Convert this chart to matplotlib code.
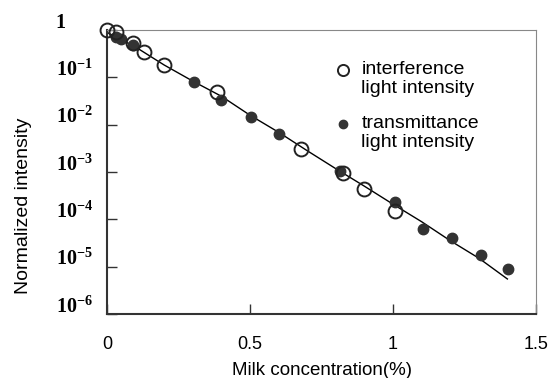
import matplotlib
matplotlib.use('Agg')
import matplotlib.pyplot as plt
import matplotlib.transforms as mtransforms
import numpy as np

# interference light intensity (open circles)
interf_x = [0.0, 0.03, 0.09, 0.13, 0.20, 0.385, 0.68, 0.825, 0.90, 1.007]
interf_log = [0.0, -0.04, -0.27, -0.47, -0.74, -1.31, -2.51, -3.02, -3.36, -3.82]

# transmittance light intensity (filled circles)
trans_x = [0.03, 0.05, 0.09, 0.305, 0.40, 0.505, 0.60, 0.815, 1.007, 1.105, 1.206, 1.307, 1.402]
trans_log = [-0.15, -0.2, -0.32, -1.10, -1.48, -1.84, -2.20, -2.98, -3.63, -4.20, -4.39, -4.75, -5.05]

# fitted line
fit_x = [0.0, 0.1, 0.2, 0.3, 0.4, 0.5, 0.6, 0.7, 0.8, 0.9, 1.0, 1.1, 1.2, 1.3, 1.4]
fit_log = [-0.05, -0.36, -0.74, -1.08, -1.40, -1.80, -2.16, -2.55, -2.93, -3.30, -3.68, -4.05, -4.45, -4.82, -5.26]

legend_labels = ['interference\nlight intensity', 'transmittance\nlight intensity']

yticks = [1, 1e-1, 1e-2, 1e-3, 1e-4, 1e-5, 1e-6]
ytick_labels = ['1', r'$\mathbf{10^{-1}}$', r'$\mathbf{10^{-2}}$', r'$\mathbf{10^{-3}}$',
                r'$\mathbf{10^{-4}}$', r'$\mathbf{10^{-5}}$', r'$\mathbf{10^{-6}}$']
xticks = [0, 0.5, 1, 1.5]
xtick_labels = ['0', '0.5', '1', '1.5']

plt.rcParams['font.family'] = 'Liberation Sans'
plt.rcParams['mathtext.fontset'] = 'custom'
plt.rcParams['mathtext.rm'] = 'Liberation Serif'
plt.rcParams['mathtext.bf'] = 'Liberation Serif:bold'

fig = plt.figure(figsize=(5.6, 3.78), dpi=100)
ax = fig.add_axes([107 / 560, 1 - 314 / 378, (536 - 107) / 560, (314 - 30) / 378])

ax.plot(fit_x, 10 ** np.array(fit_log), color='black', lw=1.0, zorder=2)
ax.plot(trans_x, 10 ** np.array(trans_log), 'o', color='#333333', ms=7.5,
        mec='#333333', zorder=3, clip_on=False)
ax.plot(interf_x, 10 ** np.array(interf_log), 'o', mfc='none', mec='#222222',
        mew=1.4, ms=10, zorder=4, clip_on=False)

ax.set_yscale('log')
ax.set_xlim(0, 1.5)
ax.set_ylim(1e-6, 1)
ax.set_yticks(yticks)
ax.set_yticklabels(ytick_labels)
ax.yaxis.set_minor_locator(matplotlib.ticker.NullLocator())
ax.set_xticks(xticks)
ax.set_xticklabels(xtick_labels)

ax.tick_params(axis='y', direction='in', length=7, width=1, color='#333333',
               labelsize=14.5, pad=37)
ax.tick_params(axis='x', direction='in', length=7, width=1, color='#333333',
               labelsize=13, pad=16)
# labels are left aligned and sit a little above their ticks
for lab in ax.get_yticklabels():
    lab.set_horizontalalignment('left')
    lab.set_fontweight('bold')
    lab.set_fontfamily('Liberation Serif')
    lab.set_transform(lab.get_transform() +
                      mtransforms.ScaledTranslation(0, 7 / 72, fig.dpi_scale_trans))

ax.spines['left'].set_color('#333333')
ax.spines['bottom'].set_color('#333333')
ax.spines['left'].set_linewidth(1.5)
ax.spines['bottom'].set_linewidth(1.5)
ax.spines['top'].set_color('#888888')
ax.spines['right'].set_color('#888888')

ax.set_xlabel('Milk concentration(%)', fontsize=13.5, labelpad=6)
ax.set_ylabel('Normalized intensity', fontsize=14)
ax.yaxis.set_label_coords(-0.175, 0.38)

# legend drawn by hand: marker next to first line of a two-line label
ax.plot([0.551], [0.86], 'o', mfc='none', mec='#222222', mew=1.4, ms=8,
        transform=ax.transAxes)
ax.plot([0.551], [0.67], 'o', color='#333333', ms=6, transform=ax.transAxes)
ax.text(0.593, 0.86 + 9 / 284, legend_labels[0], transform=ax.transAxes,
        fontsize=14, va='top', ha='left', linespacing=1.15)
ax.text(0.593, 0.67 + 9 / 284, legend_labels[1], transform=ax.transAxes,
        fontsize=14, va='top', ha='left', linespacing=1.15)

fig.savefig('out.png', dpi=100)
